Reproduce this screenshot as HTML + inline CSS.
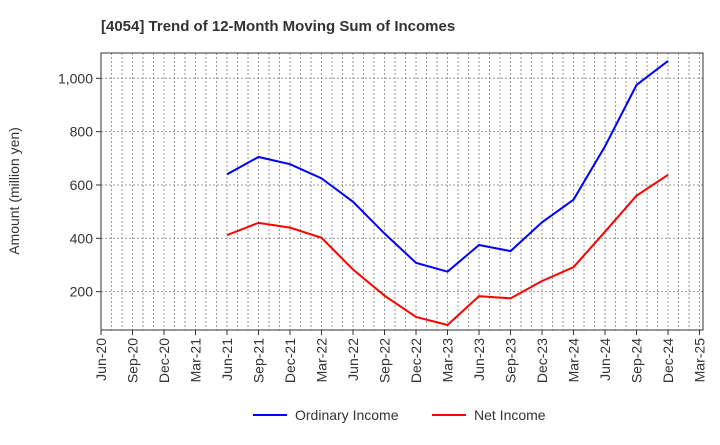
<!DOCTYPE html>
<html><head><meta charset="utf-8"><style>
body{margin:0;background:#fff;font-family:"Liberation Sans",sans-serif;}
</style></head><body>
<svg id="c" width="720" height="440" xmlns="http://www.w3.org/2000/svg">
<text x="101" y="31" font-size="15" font-weight="bold" fill="#333">[4054]  Trend of 12-Month Moving Sum of Incomes</text>
<g id="grid"></g><g id="axes"></g><g id="series"></g>
<text transform="translate(19,191) rotate(-90)" text-anchor="middle" font-size="14" fill="#333">Amount (million yen)</text>
<g>
<line x1="253" y1="415" x2="287" y2="415" stroke="#0000ff" stroke-width="2"/>
<text x="295" y="420" font-size="14" fill="#333">Ordinary Income</text>
<line x1="432" y1="415" x2="466" y2="415" stroke="#ff0000" stroke-width="2"/>
<text x="474" y="420" font-size="14" fill="#333">Net Income</text>
</g>
</svg>
<script>
const xLabels=["Jun-20","Sep-20","Dec-20","Mar-21","Jun-21","Sep-21","Dec-21","Mar-22","Jun-22","Sep-22","Dec-22","Mar-23","Jun-23","Sep-23","Dec-23","Mar-24","Jun-24","Sep-24","Dec-24","Mar-25"];
const yTicks=[200,400,600,800,1000];
const seriesStartIndex=4;
const ordinaryIncome=[640,705,678,625,537,418,308,275,375,352,460,545,745,975,1065];
const netIncome=[412,458,440,402,283,185,105,75,183,175,240,292,425,560,638];
const NS="http://www.w3.org/2000/svg";
const L=101,R=703,T=53,B=330;
const X=m=>L+(m/57.33)*(R-L);
const Y=v=>345-v*(266.7/1000);
function mk(t,a,p){const e=document.createElementNS(NS,t);for(const k in a)e.setAttribute(k,a[k]);p.appendChild(e);return e;}
const g=document.getElementById('grid'),ax=document.getElementById('axes'),s=document.getElementById('series');
for(let m=1;m<=57;m++){const l=mk('line',{x1:X(m),x2:X(m),y1:T,y2:B,stroke:'#999','stroke-width':1,'stroke-dasharray':'2,2'},g);

}
yTicks.forEach(v=>{const l=mk('line',{x1:L,x2:R,y1:Y(v),y2:Y(v),stroke:'#999','stroke-width':1,'stroke-dasharray':'2,2'},g);


mk('line',{x1:L-5,x2:L,y1:Y(v),y2:Y(v),stroke:'#333'},ax);
const t=mk('text',{x:L-8,y:Y(v)+5,'text-anchor':'end','font-size':14,fill:'#333'},ax);t.textContent=v.toLocaleString('en-US');

});
const fr=mk('rect',{x:L,y:T,width:R-L,height:B-T,fill:'none',stroke:'#333','stroke-width':1},ax);


xLabels.forEach((lab,i)=>{const x=X(i*3);mk('line',{x1:x,x2:x,y1:B,y2:B+5,stroke:'#333'},ax);
const t=mk('text',{transform:`translate(${x+5},${B+8}) rotate(-90)`,'text-anchor':'end','font-size':14,fill:'#333'},ax);t.textContent=lab;

});
function line(d,c,n){const pts=d.map((v,i)=>X((i+seriesStartIndex)*3)+','+Y(v)).join(' ');
const p=mk('polyline',{points:pts,fill:'none',stroke:c,'stroke-width':2},s);

}
line(ordinaryIncome,'#0000ff','ordinary-income-line');
line(netIncome,'#ff0000','net-income-line');
</script>
</body></html>
